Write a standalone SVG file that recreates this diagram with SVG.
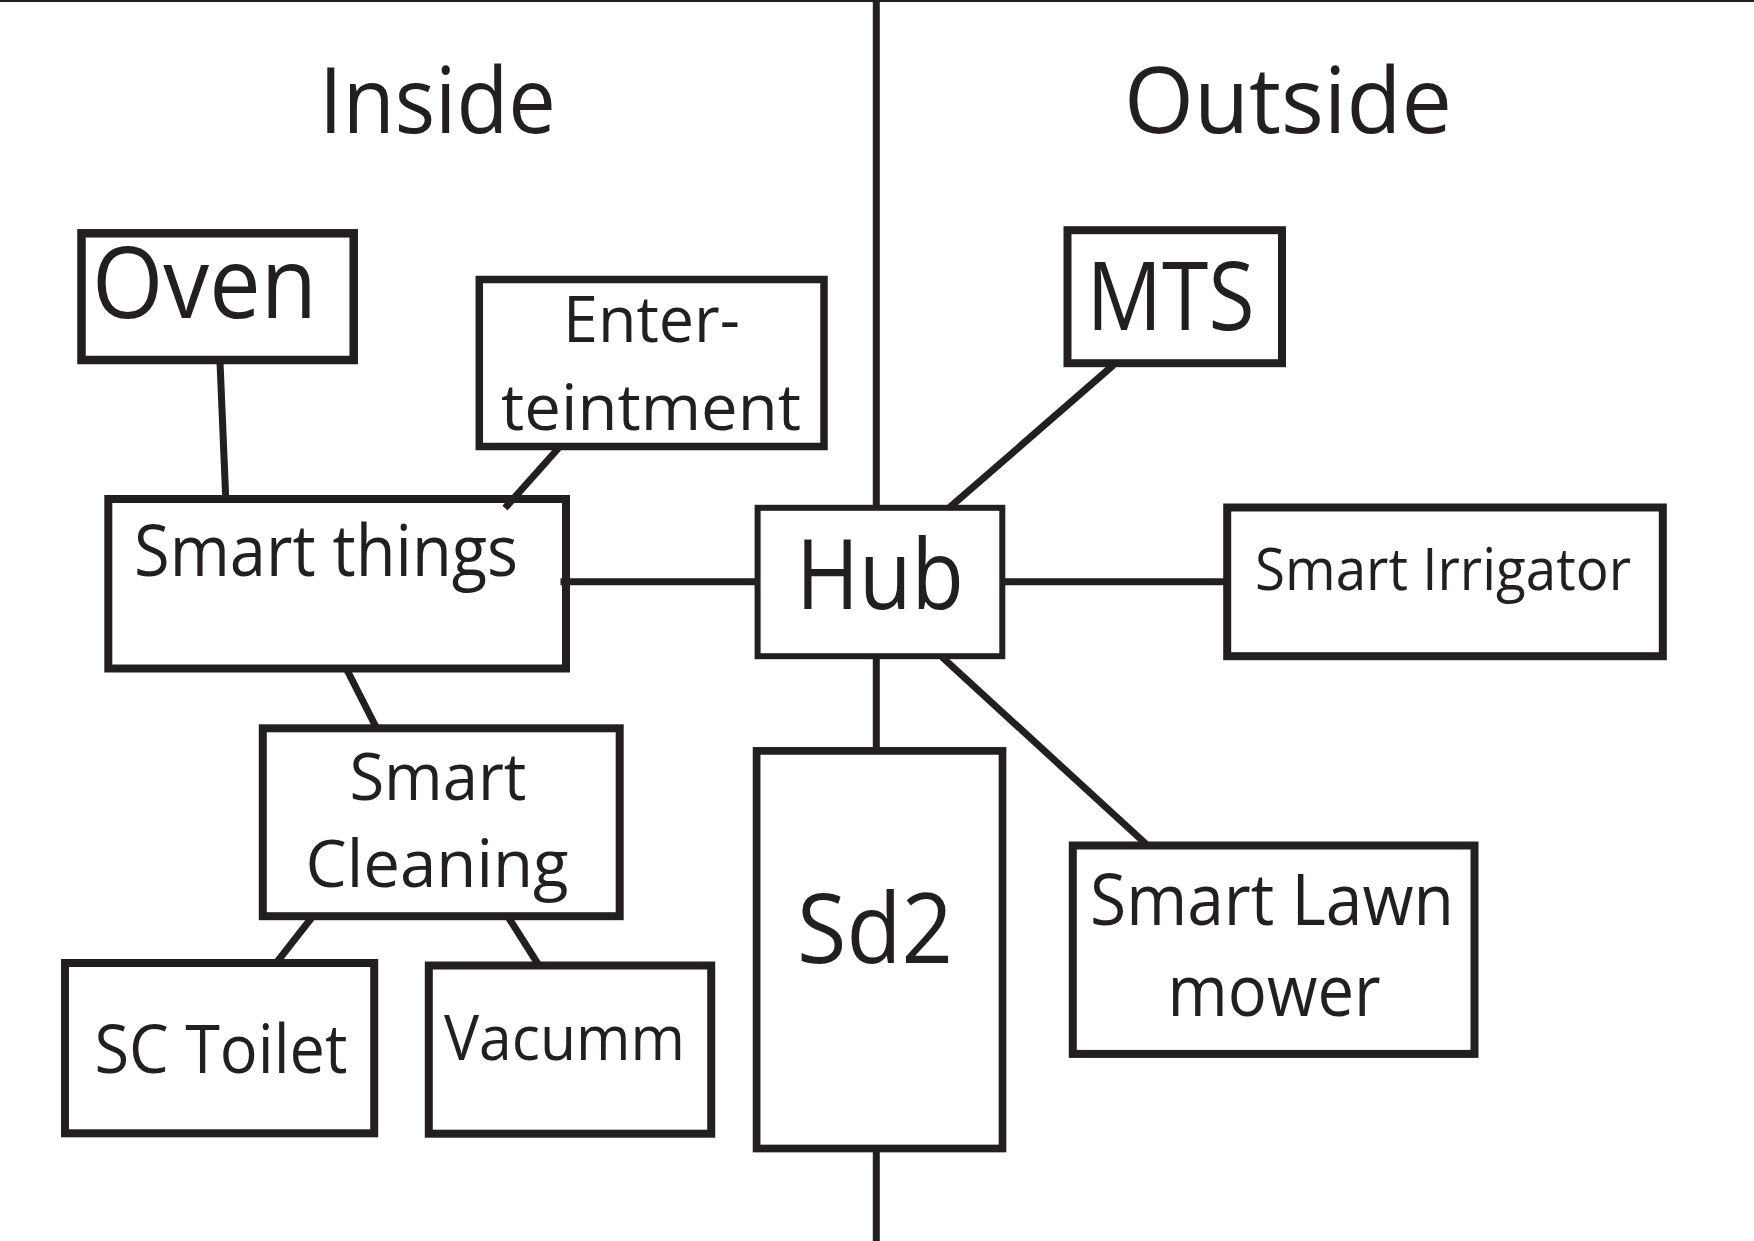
<svg xmlns="http://www.w3.org/2000/svg" width="1754" height="1241" viewBox="0 0 1754 1241">
<style>
.box{fill:#fff;stroke:#231f20;stroke-width:8}
.t{font-family:"Open Sans","Noto Sans",sans-serif;fill:#231f20}
.c{stroke:#231f20;stroke-width:7;fill:none}
</style>
<rect width="1754" height="1241" fill="#fff"/>
<g id="inside"><text class="t" x="319" y="133" font-size="91.5" textLength="237" lengthAdjust="spacingAndGlyphs">Inside</text></g>
<g id="outside"><text class="t" x="1124" y="133" font-size="91.5" textLength="328" lengthAdjust="spacingAndGlyphs">Outside</text></g>
<g id="oven">
<rect class="box" x="81.5" y="233.3" width="272.2" height="126.7" style="stroke-width:8.5"/>
<text class="t" x="92" y="318.3" font-size="99" textLength="225" lengthAdjust="spacingAndGlyphs">Oven</text>
</g>
<g id="entertainment">
<rect class="box" x="479.3" y="279.5" width="344.7" height="167" style="stroke-width:7.5"/>
<text class="t" x="563" y="342.3" font-size="64" textLength="177" lengthAdjust="spacingAndGlyphs">Enter-</text>
<text class="t" x="501" y="430" font-size="64" textLength="300" lengthAdjust="spacingAndGlyphs">teintment</text>
</g>
<g id="smart-things">
<rect class="box" x="108.3" y="499" width="457.7" height="169.5"/>
<text class="t" x="134" y="575.7" font-size="71" textLength="384" lengthAdjust="spacingAndGlyphs">Smart things</text>
</g>
<g id="hub">
<rect class="box" x="757.6" y="507.8" width="244.7" height="148.4" style="stroke-width:6"/>
<text class="t" x="796" y="609.3" font-size="97" textLength="168" lengthAdjust="spacingAndGlyphs">Hub</text>
</g>
<g id="mts">
<rect class="box" x="1067.5" y="230.2" width="214.5" height="133"/>
<text class="t" x="1086.5" y="330" font-size="95.7" textLength="168" lengthAdjust="spacingAndGlyphs">MTS</text>
</g>
<g id="smart-irrigator">
<rect class="box" x="1227.2" y="507.5" width="435.6" height="148.7"/>
<text class="t" x="1255" y="590" font-size="58.4" textLength="376" lengthAdjust="spacingAndGlyphs">Smart Irrigator</text>
</g>
<g id="smart-cleaning">
<rect class="box" x="262.8" y="728.3" width="356.9" height="187.9"/>
<text class="t" x="349.4" y="800" font-size="65.4" textLength="177" lengthAdjust="spacingAndGlyphs">Smart</text>
<text class="t" x="305.6" y="886.7" font-size="65.4" textLength="263" lengthAdjust="spacingAndGlyphs">Cleaning</text>
</g>
<g id="sc-toilet">
<rect class="box" x="65" y="963" width="309.2" height="170.3"/>
<text class="t" x="94.5" y="1073.3" font-size="67.6" textLength="253" lengthAdjust="spacingAndGlyphs">SC Toilet</text>
</g>
<g id="vacumm">
<rect class="box" x="428.8" y="965.5" width="282.4" height="168.2"/>
<text class="t" x="444" y="1060" font-size="63" textLength="241" lengthAdjust="spacingAndGlyphs">Vacumm</text>
</g>
<g id="sd2">
<rect class="box" x="756.6" y="750.9" width="245.9" height="397.6" style="stroke-width:7.7"/>
<text class="t" x="797" y="962.9" font-size="97.8" textLength="156" lengthAdjust="spacingAndGlyphs">Sd2</text>
</g>
<g id="smart-lawn-mower">
<rect class="box" x="1072.8" y="845.5" width="401.7" height="208.4"/>
<text class="t" x="1090" y="925.2" font-size="71.3" textLength="364" lengthAdjust="spacingAndGlyphs">Smart Lawn</text>
<text class="t" x="1167.6" y="1015.6" font-size="71.3" textLength="213" lengthAdjust="spacingAndGlyphs">mower</text>
</g>
<g id="connectors">
<line class="c" x1="0" y1="1" x2="1754" y2="1" style="stroke-width:2"/>
<line class="c" x1="876.3" y1="0" x2="876.3" y2="507"/>
<line class="c" x1="876.3" y1="657" x2="876.3" y2="750"/>
<line class="c" x1="876.3" y1="1149" x2="876.3" y2="1241"/>
<line class="c" x1="220" y1="362" x2="225.7" y2="497"/>
<line class="c" x1="558.6" y1="448" x2="505" y2="508"/>
<line class="c" x1="560.5" y1="581.7" x2="757" y2="581.7"/>
<line class="c" x1="1002" y1="581.7" x2="1226" y2="581.7"/>
<line class="c" x1="1113.5" y1="365" x2="949" y2="508"/>
<line class="c" x1="942" y1="657" x2="1146" y2="844"/>
<line class="c" x1="347" y1="670" x2="376" y2="727"/>
<line class="c" x1="311.4" y1="918" x2="277" y2="962"/>
<line class="c" x1="508.8" y1="918" x2="538" y2="964"/>
</g>
</svg>
